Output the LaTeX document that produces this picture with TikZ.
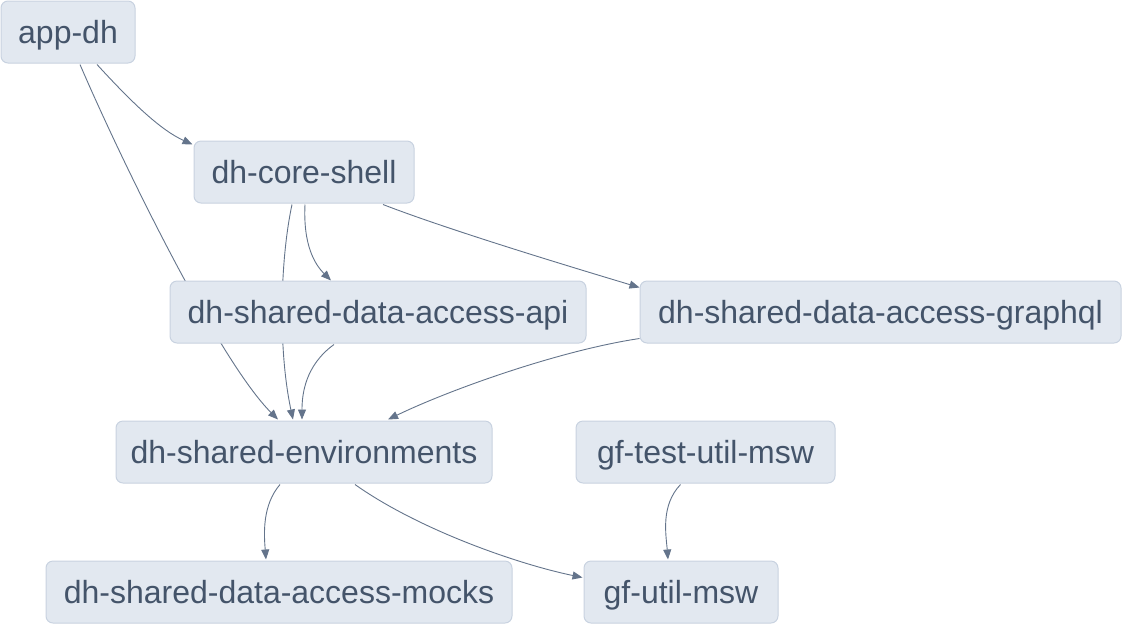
\documentclass[tikz,border=0pt]{standalone}
\usepackage{fontspec}
\setmainfont{Liberation Sans}
\usetikzlibrary{arrows.meta,calc}
\pgfdeclarelayer{background}
\pgfsetlayers{background,main}
\definecolor{boxfill}{HTML}{E2E8F0}
\definecolor{boxline}{HTML}{C8D2E0}
\definecolor{boxtext}{HTML}{44546A}
\definecolor{edgecol}{HTML}{64748B}
\tikzset{
  pkg/.style={draw=boxline, line width=1pt, fill=boxfill, rounded corners=7pt,
    text=boxtext, font=\fontsize{32}{36}\selectfont, inner sep=0pt,
    minimum height=62pt, text height=22pt, text depth=0pt, anchor=center},
  dep/.style={draw=edgecol, line width=0.9pt, -{Triangle[length=10pt,width=8pt]}}
}
\begin{document}
\begin{tikzpicture}[x=1pt,y=-1pt]
\useasboundingbox (0,0) rectangle (1123,625);
\node[pkg, minimum width=134pt] (app) at (68,32) {app-dh};
\node[pkg, minimum width=220pt] (core) at (304,172) {dh-core-shell};
\node[pkg, minimum width=416pt] (api) at (378,312) {dh-shared-data-access-api};
\node[pkg, minimum width=481pt] (gql) at (880.5,312) {dh-shared-data-access-graphql};
\node[pkg, minimum width=376pt] (env) at (304,452) {dh-shared-environments};
\node[pkg, minimum width=259pt] (gftest) at (705.5,452) {gf-test-util-msw};
\node[pkg, minimum width=466pt] (mocks) at (279,592) {dh-shared-data-access-mocks};
\node[pkg, minimum width=194pt] (gfutil) at (681,592) {gf-util-msw};
\begin{pgfonlayer}{background}
\draw[dep] ($(app.south)+(29,1)$) .. controls ($(app.south)+(62,37)$) and ($(core.north west)+(-34,-11)$) .. ($(core.north west)+(-1,4)$);
\draw[dep] ($(app.south)+(12,1)$) .. controls ($(app.south)+(55,101)$) and ($(env.north)+(-85,-60)$) .. ($(env.north)+(-26,-1)$);
\draw[dep] ($(core.south)+(-12,1)$) .. controls ($(core.south)+(-24,57)$) and ($(env.north)+(-26,-71)$) .. ($(env.north)+(-11,-1)$);
\draw[dep] ($(core.south)+(1,1)$) .. controls ($(core.south)+(-1,42)$) and ($(api.north)+(-63,-16)$) .. ($(api.north)+(-47,0)$);
\draw[dep] ($(api.south)+(-44,1)$) .. controls ($(api.south)+(-73,22)$) and ($(env.north)+(-2,-26)$) .. ($(env.north)+(-2,-1)$);
\draw[dep] ($(gql.south west)+(0,-5)$) .. controls ($(gql.south west)+(-80,7)$) and ($(env.north)+(146,-31)$) .. ($(env.north)+(84,-1)$);
\draw[dep] ($(core.south)+(79,1)$) .. controls ($(core.south)+(146,27)$) and ($(gql.north west)+(-60,-11)$) .. ($(gql.north west)+(0,7)$);
\draw[dep] ($(env.south)+(-24,1)$) .. controls ($(env.south)+(-42,22)$) and ($(mocks.north)+(-15,-26)$) .. ($(mocks.north)+(-13,-1)$);
\draw[dep] ($(env.south)+(51,1)$) .. controls ($(env.south)+(116,47)$) and ($(gfutil.north west)+(-64,4)$) .. ($(gfutil.north west)+(-1,17)$);
\draw[dep] ($(gftest.south)+(-25,1)$) .. controls ($(gftest.south)+(-45,22)$) and ($(gfutil.north)+(-15,-26)$) .. ($(gfutil.north)+(-13,-1)$);
\end{pgfonlayer}
\end{tikzpicture}
\end{document}
